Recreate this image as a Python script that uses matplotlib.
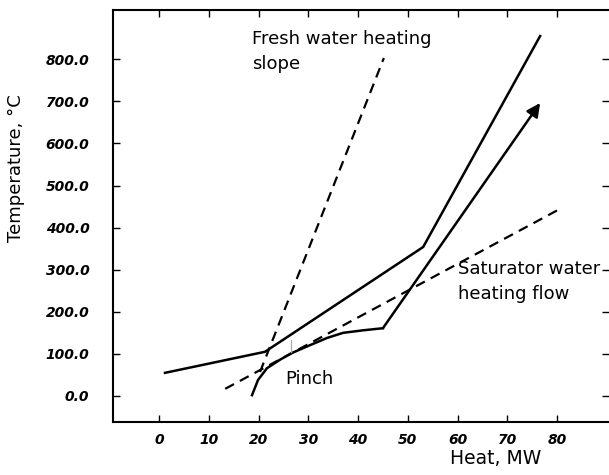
import matplotlib
matplotlib.use("Agg")
import matplotlib.pyplot as plt

# values
hot_q = [1.2, 21.3, 53.1, 76.6]
hot_t = [55, 105, 354, 855]

cold_q = [18.7, 19.9, 21.7, 24.3, 26.7, 30.4, 33.8, 37.0, 41.0, 45.0, 76.6]
cold_t = [2, 38, 66, 86, 102, 121, 138, 150, 156, 161, 696]

fresh_q = [20.3, 45.2]
fresh_t = [57, 803]

sat_q = [13.3, 80.2]
sat_t = [17, 442]

pinch_q = [26.5, 26.5]
pinch_t = [105, 133]

x_ticks = [0, 10, 20, 30, 40, 50, 60, 70, 80]
y_ticks = [0, 100, 200, 300, 400, 500, 600, 700, 800]

plt.rcParams["font.family"] = ["DejaVu Sans"]

fig = plt.figure(figsize=(6.09, 4.75), dpi=100)
ax = fig.add_axes([113 / 609, 1 - 422 / 475, 1 - 113 / 609, (422 - 10) / 475])

ax.plot(hot_q, hot_t, color="black", lw=1.8, solid_joinstyle="miter")
ax.plot(cold_q[:-1], cold_t[:-1], color="black", lw=1.8)
ax.annotate("", xy=(cold_q[-1], cold_t[-1]), xytext=(cold_q[-2], cold_t[-2]),
            arrowprops=dict(arrowstyle="-|>", color="black", lw=1.8,
                            mutation_scale=20, shrinkA=0, shrinkB=0))
ax.plot(fresh_q, fresh_t, color="black", lw=1.6, dashes=(4.5, 3))
ax.plot(sat_q, sat_t, color="black", lw=1.6, dashes=(4.5, 3))
ax.plot(pinch_q, pinch_t, color="#aaaaaa", lw=0.9)

ax.text(18.7, 870, "Fresh water heating\nslope", fontsize=13, va="top",
        ha="left", linespacing=1.5)
ax.text(60.1, 324, "Saturator water\nheating flow", fontsize=13, va="top",
        ha="left", linespacing=1.55)
ax.text(25.3, 62, "Pinch", fontsize=13, va="top", ha="left")

ax.set_xlim(-9.25, 90.45)
ax.set_ylim(-61.8, 917)
ax.set_xticks(x_ticks)
ax.set_yticks(y_ticks)
ax.set_xticklabels([str(v) for v in x_ticks])
ax.set_yticklabels([f"{v:.1f}" for v in y_ticks])

for lab in ax.get_xticklabels() + ax.get_yticklabels():
    lab.set_fontweight("bold")
    lab.set_fontstyle("italic")
    lab.set_fontsize(10)

ax.tick_params(axis="both", direction="in", length=5, width=1,
               top=True, right=True)
ax.tick_params(axis="x", pad=8)
ax.tick_params(axis="y", pad=17)

for side in ["left", "bottom", "top"]:
    ax.spines[side].set_linewidth(1.5)
ax.spines["right"].set_visible(False)

fig.text(496 / 609, 1 - 458 / 475, "Heat, MW", fontsize=13.5,
         ha="center", va="center")
fig.text(16 / 609, 1 - 168 / 475, "Temperature, °C", fontsize=13,
         rotation=90, ha="center", va="center")

fig.savefig("out.png", dpi=100)
